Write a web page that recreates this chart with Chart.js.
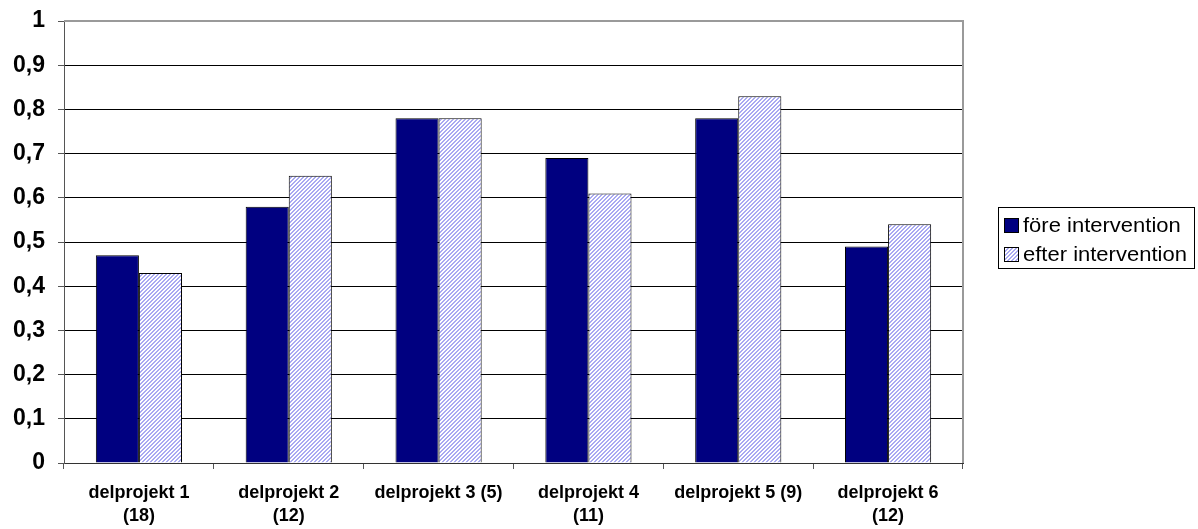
<!DOCTYPE html>
<html>
<head>
<meta charset="utf-8">
<script src="https://cdn.jsdelivr.net/npm/chart.js@4/dist/chart.umd.min.js"></script>
<style>
  html, body { margin: 0; padding: 0; background: #fff; }
  #wrap { width: 1198px; height: 529px; position: relative; }
</style>
</head>
<body>
<div id="wrap"><canvas id="c" width="1198" height="529"></canvas></div>
<script>
// Categories (project, with group size) and the two series
const categories = [
  ['delprojekt 1', '(18)'],
  ['delprojekt 2', '(12)'],
  'delprojekt 3 (5)',
  ['delprojekt 4', '(11)'],
  'delprojekt 5 (9)',
  ['delprojekt 6', '(12)']
];
const seriesNames = ['före intervention', 'efter intervention'];
const foreValues = [0.47, 0.58, 0.78, 0.69, 0.78, 0.49];
const efterValues = [0.43, 0.65, 0.78, 0.61, 0.83, 0.54];
const yTicks = [0, 0.1, 0.2, 0.3, 0.4, 0.5, 0.6, 0.7, 0.8, 0.9, 1];

const FONT = 'Arial, "Liberation Sans", sans-serif';

// Diagonal hatch used for the "efter" bars
function makeHatch() {
  const t = document.createElement('canvas');
  t.width = 4; t.height = 4;
  const g = t.getContext('2d');
  g.fillStyle = '#ffffff';
  g.fillRect(0, 0, 4, 4);
  g.fillStyle = '#a9a9f2';
  for (let i = 0; i < 4; i++) {
    g.fillRect(3 - i, i, 1, 1);
    g.fillRect((4 - i) % 4, i, 1, 1);
  }
  return document.getElementById('c').getContext('2d').createPattern(t, 'repeat');
}
const hatch = makeHatch();

// Gray frame on top and right of the plot area
const frame = {
  id: 'frame',
  beforeDatasetsDraw(chart) {
    const { ctx, chartArea: a } = chart;
    ctx.save();
    ctx.strokeStyle = '#9a9a9a';
    ctx.lineWidth = 2;
    ctx.beginPath();
    ctx.moveTo(a.left, a.top);
    ctx.lineTo(a.right, a.top);
    ctx.lineTo(a.right, a.bottom);
    ctx.stroke();
    ctx.restore();
  }
};

// Boxed legend at the right
const boxLegend = {
  id: 'boxLegend',
  afterDraw(chart) {
    const ctx = chart.ctx;
    const x = 998, y = 207, w = 196, h = 61;
    ctx.save();
    ctx.fillStyle = '#fff';
    ctx.fillRect(x, y, w, h);
    ctx.strokeStyle = '#000';
    ctx.lineWidth = 1;
    ctx.strokeRect(x + 0.5, y + 0.5, w, h);
    ctx.font = '20px ' + FONT;
    ctx.textBaseline = 'middle';
    chart.data.datasets.forEach((ds, i) => {
      const cy = y + 18 + i * 29;
      ctx.fillStyle = ds.backgroundColor;
      ctx.fillRect(x + 6, cy - 7, 15, 15);
      ctx.strokeStyle = '#000';
      ctx.strokeRect(x + 6.5, cy - 6.5, 14, 14);
      ctx.fillStyle = '#000';
      ctx.save();
      ctx.translate(x + 25, cy + 1);
      ctx.scale(1.1, 1);
      ctx.fillText(ds.label, 0, 0);
      ctx.restore();
    });
    ctx.restore();
  }
};

new Chart(document.getElementById('c'), {
  type: 'bar',
  data: {
    labels: categories,
    datasets: [
      { label: seriesNames[0], data: foreValues, backgroundColor: '#000080', borderColor: '#000', borderWidth: 1 },
      { label: seriesNames[1], data: efterValues, backgroundColor: hatch, borderColor: '#000', borderWidth: 1 }
    ]
  },
  options: {
    responsive: false,
    animation: false,
    devicePixelRatio: 1,
    layout: { padding: { left: 0, right: 235, top: 21, bottom: 0 } },
    datasets: { bar: { categoryPercentage: 0.575, barPercentage: 1 } },
    plugins: {
      legend: { display: false },
      tooltip: { enabled: false }
    },
    scales: {
      x: {
        grid: { offset: true, drawOnChartArea: false, drawTicks: true, tickLength: 6, color: '#555' },
        border: { color: '#333', width: 1 },
        ticks: {
          color: '#000',
          padding: 12,
          maxRotation: 0,
          autoSkip: false,
          font: { family: FONT, size: 18, weight: 'bold', lineHeight: 1.3 }
        },
        afterFit(s) { s.height = 66; }
      },
      y: {
        min: 0,
        max: 1,
        afterBuildTicks(s) { s.ticks = yTicks.map(v => ({ value: v })); },
        grid: { color: '#000', lineWidth: 1, tickLength: 6, drawTicks: true,
                tickColor: '#555' },
        border: { color: '#555', width: 1 },
        ticks: {
          color: '#000',
          padding: 13,
          font: { family: FONT, size: 23, weight: 'bold', lineHeight: 0.6 },
          callback: v => String(+v.toFixed(1)).replace('.', ',')
        },
        afterFit(s) { s.width = 64; }
      }
    }
  },
  plugins: [frame, boxLegend]
});
</script>
</body>
</html>
